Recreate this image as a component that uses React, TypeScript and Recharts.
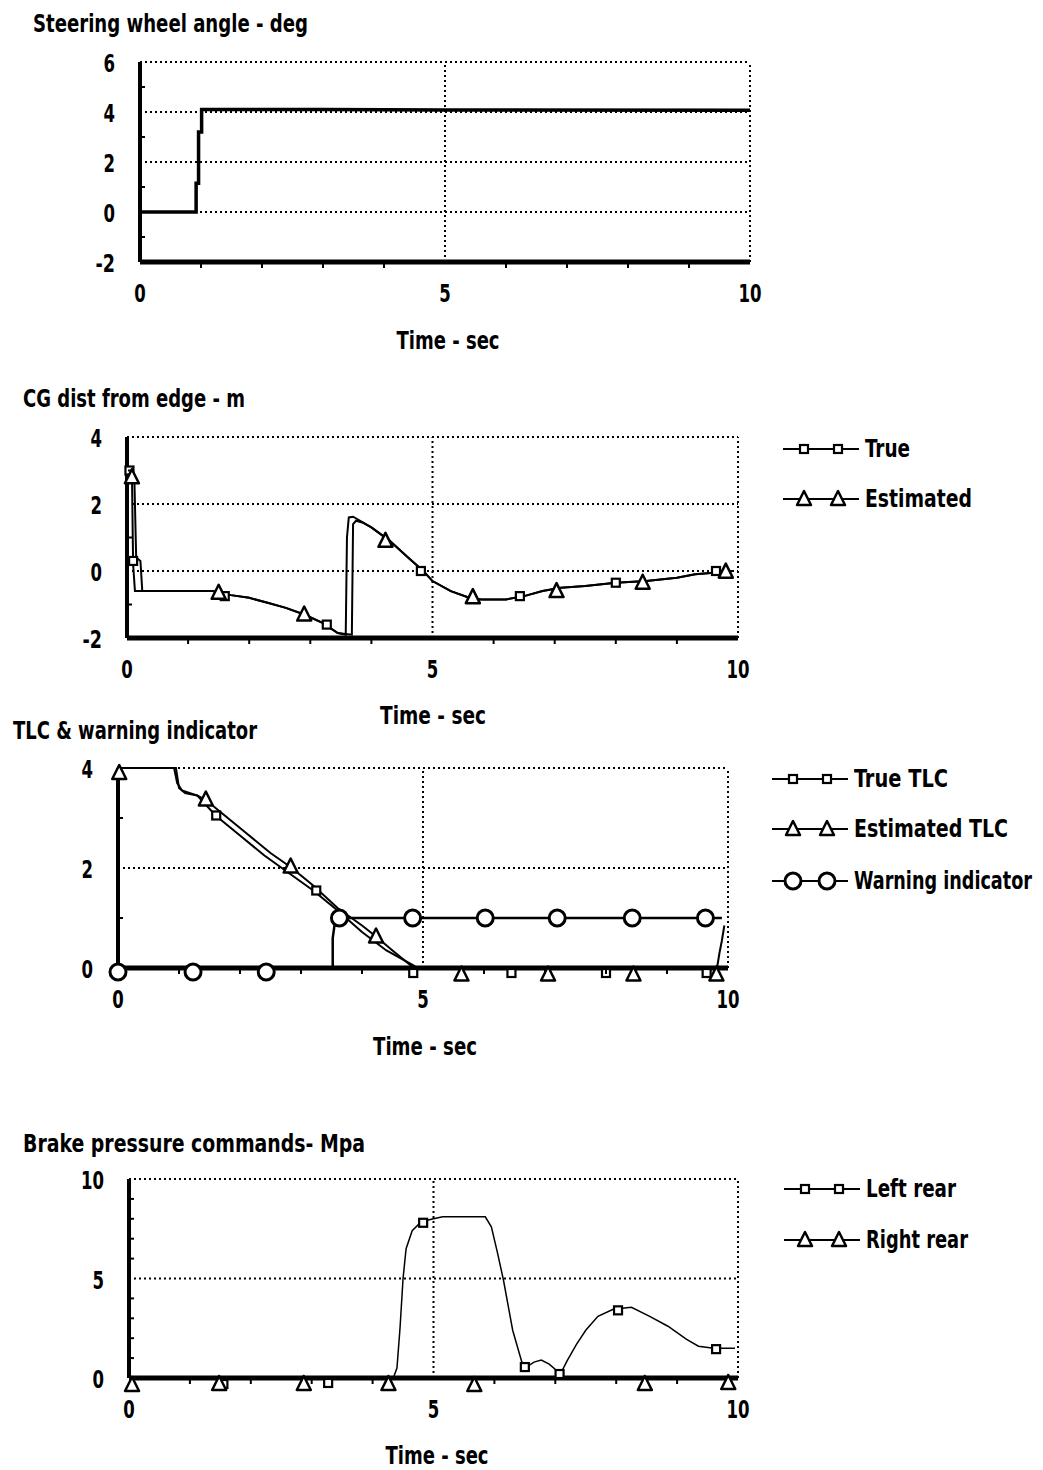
import React from 'react'
import { ComposedChart, Line, XAxis, YAxis, ReferenceLine, ReferenceDot } from 'recharts'

type Pt = [number, number]
type MarkKind = 'square' | 'triangle' | 'circle'

// ---- Steering wheel angle - deg ----
const steerLine: Pt[] = [
  [0, 0], [0.92, 0], [0.92, 1.15], [0.96, 1.15], [0.96, 3.2], [1.01, 3.2], [1.01, 4.1], [3, 4.1], [5, 4.08], [10, 4.07],
]

// ---- CG dist from edge - m ----
const cgTrue: Pt[] = [
  [0, 2.8], [0.03, 3.1], [0.08, 3.05], [0.1, 0.2], [0.13, -0.6], [1.4, -0.6], [1.7, -0.72], [2.0, -0.8], [2.3, -0.95],
  [2.6, -1.1], [2.9, -1.3], [3.2, -1.55], [3.45, -1.85], [3.58, -1.9], [3.6, 1.0], [3.63, 1.6], [3.7, 1.62], [4.0, 1.3],
  [4.3, 0.9], [4.6, 0.4], [4.85, 0.0], [5.0, -0.3], [5.3, -0.6], [5.6, -0.8], [5.8, -0.85], [6.2, -0.85], [6.5, -0.75],
  [6.8, -0.6], [7.1, -0.5], [7.5, -0.45], [8.0, -0.35], [8.5, -0.3], [9.0, -0.2], [9.3, -0.1], [9.6, -0.05], [9.9, 0.0],
]
const cgEst: Pt[] = [
  [0, 2.7], [0.05, 2.9], [0.12, 2.8], [0.15, 0.4], [0.22, 0.3], [0.25, -0.6], [1.4, -0.6], [1.7, -0.72], [2.0, -0.8],
  [2.3, -0.95], [2.6, -1.1], [2.9, -1.3], [3.2, -1.55], [3.45, -1.85], [3.68, -1.9], [3.7, 1.4], [3.75, 1.5], [3.85, 1.45],
  [4.0, 1.3], [4.3, 0.9], [4.6, 0.4], [4.85, 0.0], [5.0, -0.3], [5.3, -0.6], [5.6, -0.8], [5.8, -0.85], [6.2, -0.85],
  [6.5, -0.75], [6.8, -0.6], [7.1, -0.5], [7.5, -0.45], [8.0, -0.35], [8.5, -0.3], [9.0, -0.2], [9.3, -0.1], [9.6, -0.05],
  [9.9, 0.0],
]
const cgTrueMarks: Pt[] = [[0.04, 3.0], [0.1, 0.3], [1.6, -0.75], [3.27, -1.6], [4.81, 0], [6.43, -0.75], [8.0, -0.35], [9.64, 0.0]]
const cgEstMarks: Pt[] = [[0.08, 2.8], [1.5, -0.65], [2.9, -1.3], [4.23, 0.9], [5.66, -0.78], [7.03, -0.6], [8.44, -0.35], [9.8, -0.02]]

// ---- TLC & warning indicator ----
const tlcTrue: Pt[] = [
  [0, 4], [0.92, 4], [0.97, 3.7], [1.05, 3.55], [1.3, 3.45], [1.6, 3.05], [2.0, 2.65], [2.4, 2.25], [2.8, 1.9],
  [3.2, 1.55], [3.6, 1.15], [4.0, 0.72], [4.4, 0.35], [4.85, 0.05], [4.9, 0], [9.82, 0], [9.86, 0.3], [9.9, 0.55], [9.94, 0.85],
]
const tlcEst: Pt[] = [
  [0, 4], [0.95, 4], [1.0, 3.6], [1.1, 3.5], [1.3, 3.45], [1.45, 3.35], [1.7, 3.1], [2.1, 2.7], [2.5, 2.3], [2.85, 2.0],
  [3.2, 1.65], [3.6, 1.2], [4.0, 0.85], [4.23, 0.63], [4.5, 0.35], [4.8, 0.05], [4.85, 0], [10, 0],
]
const warnLine: Pt[] = [[0, 0], [3.52, 0], [3.52, 0.6], [3.56, 0.95], [3.6, 1], [9.9, 1]]
const tlcTrueMarks: Pt[] = [[1.61, 3.05], [3.25, 1.55], [4.84, -0.1], [6.45, -0.1], [8.0, -0.1], [9.65, -0.1]]
const tlcEstMarks: Pt[] = [[0.02, 3.9], [1.44, 3.37], [2.83, 2.03], [4.23, 0.63], [5.63, -0.13], [7.05, -0.13], [8.45, -0.13], [9.81, -0.13]]
const warnMarks: Pt[] = [[0, -0.08], [1.23, -0.08], [2.43, -0.08], [3.63, 1], [4.83, 1], [6.02, 1], [7.2, 1], [8.43, 1], [9.63, 1]]

// ---- Brake pressure commands - Mpa ----
const leftRear: Pt[] = [
  [0, 0], [4.34, 0], [4.4, 0.5], [4.45, 2.5], [4.5, 5.0], [4.55, 6.5], [4.65, 7.4], [4.8, 7.85], [5.0, 8.0], [5.15, 8.1],
  [5.85, 8.1], [5.95, 7.6], [6.05, 6.3], [6.15, 4.9], [6.3, 2.4], [6.45, 0.8], [6.55, 0.6], [6.65, 0.8], [6.77, 0.9],
  [6.9, 0.7], [7.05, 0.3], [7.1, 0.3], [7.2, 0.9], [7.35, 1.7], [7.5, 2.4], [7.7, 3.1], [7.95, 3.45], [8.25, 3.55],
  [8.55, 3.1], [8.85, 2.6], [9.15, 1.95], [9.35, 1.6], [9.6, 1.5], [9.95, 1.5],
]
const rightRear: Pt[] = [[0, 0], [10, 0]]
const leftRearMarks: Pt[] = [[1.55, -0.3], [3.27, -0.25], [4.83, 7.8], [6.5, 0.55], [7.07, 0.2], [8.03, 3.4], [9.64, 1.45]]
const rightRearMarks: Pt[] = [[0.05, -0.35], [1.48, -0.3], [2.87, -0.3], [4.26, -0.3], [5.67, -0.35], [8.47, -0.3], [9.84, -0.25]]

const X_TICKS = [0, 1, 2, 3, 4, 5, 6, 7, 8, 9, 10]
const X_MAJOR = [0, 5, 10]

const FONT = '"Liberation Sans Narrow", "DejaVu Sans Condensed", "DejaVu Sans", sans-serif'
const TEXT_STYLE: React.CSSProperties = { fontFamily: FONT, fontSize: 24, fontWeight: 'bold', fill: '#000' }
const SQUEEZE = 0.76 // the scan's font is much narrower than any installed one

const toXY = (pts: Pt[]) => pts.map(([x, y]) => ({ x, y }))

// narrow bitmap-like digits: squeeze tick labels to the reference widths
const tickLen = (s: string) => s.split('').reduce((w, c) => w + (c === '-' ? 8 : 11.5), 0)

function Marker({ kind, cx, cy }: { kind: MarkKind; cx: number; cy: number }) {
  if (kind === 'square') {
    return <rect x={cx - 4} y={cy - 4} width={8} height={8} fill="#fff" stroke="#000" strokeWidth={2.2} />
  }
  if (kind === 'triangle') {
    return (
      <polygon
        points={`${cx},${cy - 8} ${cx - 7},${cy + 6} ${cx + 7},${cy + 6}`}
        fill="#fff"
        stroke="#000"
        strokeWidth={2.5}
        strokeLinejoin="round"
      />
    )
  }
  return <circle cx={cx} cy={cy} r={8} fill="#fff" stroke="#000" strokeWidth={3} />
}

interface Series {
  line: Pt[]
  width: number
  marks?: Pt[]
  kind?: MarkKind
}

interface PanelProps {
  top: number
  left: number
  right: number
  bottom: number
  yDomain: [number, number]
  yTicks: number[]
  yMajor: number[]
  yGrid: number[]
  series: Series[]
}

function Panel({ top, left, right, bottom, yDomain, yTicks, yMajor, yGrid, series }: PanelProps) {
  const width = right + 30
  const height = bottom - top + 20 + 60

  const xTick = (p: any) => {
    const v = p.payload.value
    if (X_MAJOR.includes(v)) {
      const s = String(v)
      return (
        <text
          x={p.x}
          y={p.y + 40}
          textAnchor="middle"
          textLength={tickLen(s)}
          lengthAdjust="spacingAndGlyphs"
          style={TEXT_STYLE}
        >
          {s}
        </text>
      )
    }
    return <line x1={p.x} x2={p.x} y1={p.y + 2} y2={p.y + 6} stroke="#000" strokeWidth={2} />
  }

  const yTick = (p: any) => {
    const v = p.payload.value
    if (yMajor.includes(v)) {
      const s = String(v)
      return (
        <text
          x={p.x - 25}
          y={p.y + 10}
          textAnchor="end"
          textLength={tickLen(s)}
          lengthAdjust="spacingAndGlyphs"
          style={TEXT_STYLE}
        >
          {s}
        </text>
      )
    }
    return <line x1={p.x + 1} x2={p.x + 5} y1={p.y} y2={p.y} stroke="#000" strokeWidth={2} />
  }

  return (
    <div style={{ position: 'absolute', left: 0, top: top - 20 }}>
      <ComposedChart width={width} height={height} margin={{ top: 20, right: 30, bottom: 0, left: 0 }}>
        <XAxis
          type="number"
          dataKey="x"
          domain={[0, 10]}
          ticks={X_TICKS}
          interval={0}
          height={60}
          tickSize={0}
          tickMargin={0}
          tickLine={false}
          axisLine={{ stroke: '#000', strokeWidth: 5 }}
          tick={xTick}
        />
        <YAxis
          type="number"
          domain={yDomain}
          ticks={yTicks}
          interval={0}
          width={left}
          tickSize={0}
          tickMargin={0}
          tickLine={false}
          axisLine={{ stroke: '#000', strokeWidth: 4 }}
          tick={yTick}
        />
        {yGrid.map((v) => (
          <ReferenceLine key={'gy' + v} y={v} stroke="#000" strokeWidth={2} strokeDasharray="2 3" />
        ))}
        {[5, 10].map((v) => (
          <ReferenceLine key={'gx' + v} x={v} stroke="#000" strokeWidth={2} strokeDasharray="2 3" />
        ))}
        {series.map((s, i) => (
          <Line
            key={'l' + i}
            data={toXY(s.line)}
            dataKey="y"
            type="linear"
            stroke="#000"
            strokeWidth={s.width}
            dot={false}
            activeDot={false}
            isAnimationActive={false}
          />
        ))}
        {series.flatMap((s, i) =>
          (s.marks || []).map(([x, y], j) => (
            <ReferenceDot
              key={`m${i}-${j}`}
              x={x}
              y={y}
              r={8}
              ifOverflow="visible"
              shape={(p: any) => <Marker kind={s.kind || 'square'} cx={p.cx} cy={p.cy} />}
            />
          ))
        )}
      </ComposedChart>
    </div>
  )
}

function Label({ x, y, text, len, anchor }: { x: number; y: number; text: string; len: number; anchor?: 'middle' }) {
  return (
    <g transform={`translate(${x},${y}) scale(${SQUEEZE},1)`}>
      <text
        x={0}
        y={0}
        textAnchor={anchor || 'start'}
        textLength={len / SQUEEZE}
        lengthAdjust="spacingAndGlyphs"
        style={TEXT_STYLE}
      >
        {text}
      </text>
    </g>
  )
}

function LegendItem({ x, y, kind, label, textLen }: { x: number; y: number; kind: MarkKind; label: string; textLen: number }) {
  return (
    <g>
      <line x1={x} x2={x + 76} y1={y} y2={y} stroke="#000" strokeWidth={2} />
      <Marker kind={kind} cx={x + 21} cy={y} />
      <Marker kind={kind} cx={x + 55} cy={y} />
      <Label x={x + 82} y={y + 8} text={label} len={textLen} />
    </g>
  )
}

export default function App() {
  return (
    <div style={{ position: 'absolute', left: 0, top: 0, width: 1043, height: 1470, background: '#fff' }}>
      <Panel
        top={62}
        left={140}
        right={750}
        bottom={262}
        yDomain={[-2, 6]}
        yTicks={[-2, -1, 0, 1, 2, 3, 4, 5, 6]}
        yMajor={[-2, 0, 2, 4, 6]}
        yGrid={[6, 4, 2, 0]}
        series={[{ line: steerLine, width: 3.5 }]}
      />
      <Panel
        top={437}
        left={127}
        right={738}
        bottom={638}
        yDomain={[-2, 4]}
        yTicks={[-2, -1, 0, 1, 2, 3, 4]}
        yMajor={[-2, 0, 2, 4]}
        yGrid={[4, 2, 0]}
        series={[
          { line: cgTrue, width: 2, marks: cgTrueMarks, kind: 'square' },
          { line: cgEst, width: 2, marks: cgEstMarks, kind: 'triangle' },
        ]}
      />
      <Panel
        top={768}
        left={118}
        right={728}
        bottom={968}
        yDomain={[0, 4]}
        yTicks={[0, 1, 2, 3, 4]}
        yMajor={[0, 2, 4]}
        yGrid={[4, 2]}
        series={[
          { line: tlcTrue, width: 2, marks: tlcTrueMarks, kind: 'square' },
          { line: tlcEst, width: 2, marks: tlcEstMarks, kind: 'triangle' },
          { line: warnLine, width: 2.5, marks: warnMarks, kind: 'circle' },
        ]}
      />
      <Panel
        top={1179}
        left={129}
        right={738}
        bottom={1378}
        yDomain={[0, 10]}
        yTicks={[0, 1, 2, 3, 4, 5, 6, 7, 8, 9, 10]}
        yMajor={[0, 5, 10]}
        yGrid={[10, 5]}
        series={[
          { line: leftRear, width: 1.5, marks: leftRearMarks, kind: 'square' },
          { line: rightRear, width: 2, marks: rightRearMarks, kind: 'triangle' },
        ]}
      />
      <svg width={1043} height={1470} style={{ position: 'absolute', left: 0, top: 0, pointerEvents: 'none' }}>
        <Label x={33} y={32} text="Steering wheel angle - deg" len={275} />
        <Label x={448} y={349} text="Time - sec" len={103} anchor="middle" />

        <Label x={23} y={407} text="CG dist from edge - m" len={222} />
        <LegendItem x={783} y={449} kind="square" label="True" textLen={45} />
        <LegendItem x={783} y={499} kind="triangle" label="Estimated" textLen={107} />
        <Label x={433} y={724} text="Time - sec" len={106} anchor="middle" />

        <Label x={13} y={739} text="TLC & warning indicator" len={244} />
        <LegendItem x={772} y={779} kind="square" label="True TLC" textLen={94} />
        <LegendItem x={772} y={829} kind="triangle" label="Estimated TLC" textLen={154} />
        <LegendItem x={772} y={881} kind="circle" label="Warning indicator" textLen={178} />
        <Label x={425} y={1055} text="Time - sec" len={104} anchor="middle" />

        <Label x={23} y={1152} text="Brake pressure commands- Mpa" len={342} />
        <LegendItem x={784} y={1189} kind="square" label="Left rear" textLen={90} />
        <LegendItem x={784} y={1240} kind="triangle" label="Right rear" textLen={102} />
        <Label x={437} y={1464} text="Time - sec" len={103} anchor="middle" />
      </svg>
    </div>
  )
}
